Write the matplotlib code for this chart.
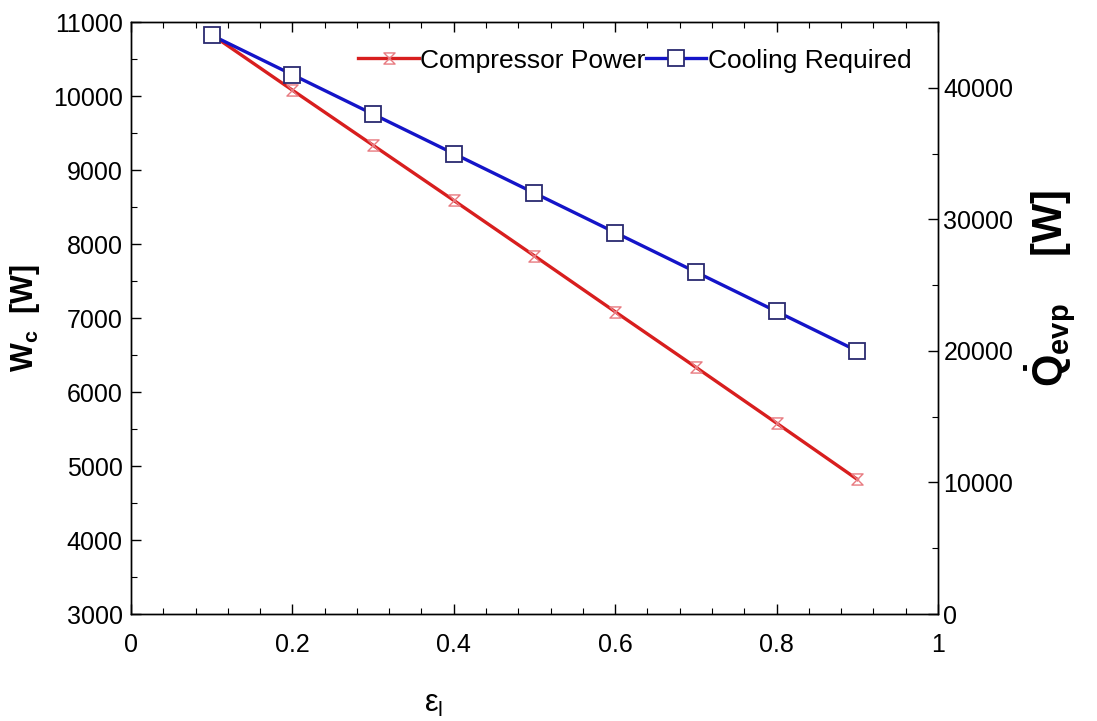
import matplotlib
matplotlib.use("Agg")
import matplotlib.pyplot as plt
from matplotlib.ticker import MultipleLocator, AutoMinorLocator
from matplotlib.path import Path

plt.rcParams['font.family'] = ['Liberation Sans', 'DejaVu Sans']
plt.rcParams['mathtext.fontset'] = 'custom'
plt.rcParams['mathtext.rm'] = 'Liberation Sans'
plt.rcParams['mathtext.it'] = 'Liberation Sans'
plt.rcParams['mathtext.bf'] = 'Liberation Sans:bold'

# Data
eps = [0.1, 0.2, 0.3, 0.4, 0.5, 0.6, 0.7, 0.8, 0.9]
compressor_power = [10830, 10080, 9335, 8590, 7840, 7085, 6335, 5580, 4820]   # W (left axis)
cooling_required = [44000, 41000, 38000, 35000, 32000, 29000, 26000, 23000, 20000]  # W (right axis)

# hourglass marker used for the compressor series
hourglass = Path([(-1, 1), (1, 1), (-1, -1), (1, -1), (-1, 1)],
                 [Path.MOVETO, Path.LINETO, Path.LINETO, Path.LINETO, Path.CLOSEPOLY])

fig = plt.figure(figsize=(10.97, 7.21), dpi=100)
ax = fig.add_axes([0.1194, 0.1484, 0.7356, 0.821])
ax2 = ax.twinx()

l1, = ax.plot(eps, compressor_power, color='#d81e1e', lw=2.4, marker=hourglass,
              markersize=8, markerfacecolor='none', markeredgecolor='#e87a80',
              markeredgewidth=1.0, label='Compressor Power')
l2, = ax2.plot(eps, cooling_required, color='#1414c8', lw=2.4, marker='s',
               markersize=12, markerfacecolor='white', markeredgecolor='#2a2a70',
               markeredgewidth=1.3, label='Cooling Required')

ax.set_xlim(0, 1)
ax.set_ylim(3000, 11000)
ax2.set_ylim(0, 45000)

ax.xaxis.set_major_locator(MultipleLocator(0.2))
ax.xaxis.set_minor_locator(AutoMinorLocator(5))
ax.yaxis.set_major_locator(MultipleLocator(1000))
ax.yaxis.set_minor_locator(AutoMinorLocator(2))
ax2.yaxis.set_major_locator(MultipleLocator(10000))
ax2.yaxis.set_minor_locator(AutoMinorLocator(2))
ax.xaxis.set_major_formatter(matplotlib.ticker.FuncFormatter(lambda v, p: '%g' % round(v, 2)))

ax.tick_params(axis='x', which='both', direction='in', top=True, labelsize=18, pad=14)
ax.tick_params(axis='y', which='both', direction='in', labelsize=18, pad=6)
ax.tick_params(which='major', length=7, width=1)
ax.tick_params(which='minor', length=4, width=0.8)
ax2.tick_params(which='both', direction='in', labelsize=18, pad=4)
ax2.tick_params(which='major', length=7, width=1)
ax2.tick_params(which='minor', length=4, width=0.8)

for a in (ax, ax2):
    for s in a.spines.values():
        s.set_linewidth(1.0)

ax.set_ylabel(r'$\mathbf{W_c}$  [W]', fontsize=22, fontweight='bold', labelpad=8)
ax2.set_ylabel(r'$\mathbf{\dot{Q}_{evp}}$    [W]', fontsize=30, fontweight='bold',
               rotation=90)
ax2.yaxis.set_label_coords(1.105, 0.55)
fig.text(0.395, 0.012, r'$\mathrm{\varepsilon_l}$', fontsize=22, ha='center')

leg = ax.legend([l1, l2], ['Compressor Power', 'Cooling Required'], ncol=2,
                loc='center right', bbox_to_anchor=(0.98, 0.935), frameon=False,
                fontsize=19, handlelength=2.3, handletextpad=0.05,
                columnspacing=0.0, borderaxespad=0)

fig.savefig('out.png', dpi=100)
